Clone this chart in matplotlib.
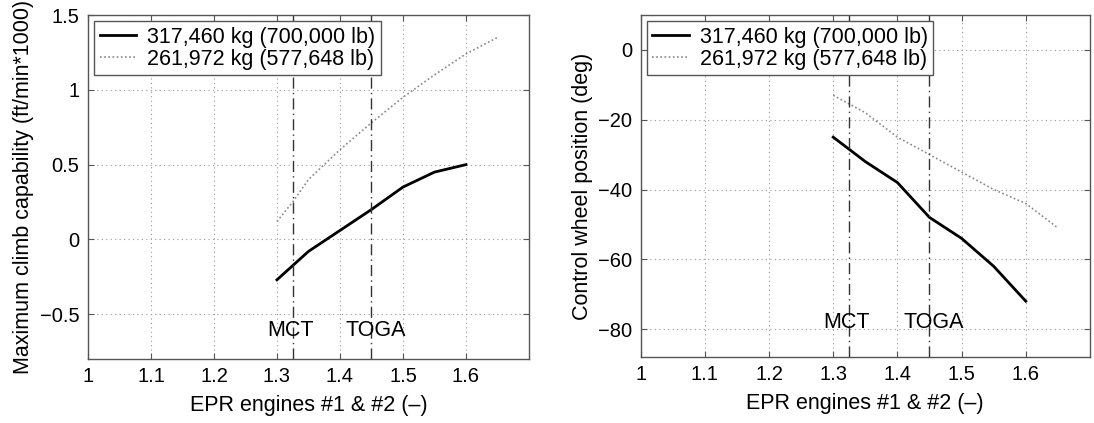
import numpy as np
from matplotlib import pyplot as plt

plt.rcParams["font.family"] = ["Liberation Sans", "DejaVu Sans"]

# EPR settings
epr_heavy = [1.3, 1.35, 1.4, 1.45, 1.5, 1.55, 1.6]
epr_light = [1.3, 1.325, 1.35, 1.4, 1.45, 1.5, 1.55, 1.6, 1.65]
epr_light_r = [1.3, 1.35, 1.4, 1.45, 1.5, 1.55, 1.6, 1.65]

# max climb capability (ft/min*1000)
climb_heavy = [-0.27, -0.08, 0.06, 0.2, 0.35, 0.45, 0.5]
climb_light = [0.12, 0.25, 0.40, 0.60, 0.78, 0.95, 1.10, 1.24, 1.35]

# control wheel position (deg)
wheel_heavy = [-25, -32, -38, -48, -54, -62, -72]
wheel_light = [-13, -18, -25, -30, -35, -40, -44, -51]

labels = ["317,460 kg (700,000 lb)", "261,972 kg (577,648 lb)"]
mct, toga = 1.325, 1.45
xticks = [1, 1.1, 1.2, 1.3, 1.4, 1.5, 1.6]
xticklabels = ["1", "1.1", "1.2", "1.3", "1.4", "1.5", "1.6"]

fs = 15.5
fs_tick = 14.5
fig = plt.figure(figsize=(10.94, 4.23), dpi=100)
ax1 = fig.add_axes([0.0804, 0.151, 0.4031, 0.8135])
ax2 = fig.add_axes([0.5856, 0.156, 0.4107, 0.8085])


def style(ax):
    ax.set_xlim(1, 1.7)
    ax.set_xticks(xticks)
    ax.set_xticklabels(xticklabels)
    ax.grid(True, linestyle=(0, (1, 3)), color="#999999", linewidth=0.8)
    ax.tick_params(direction="in", top=True, right=True, labelsize=fs_tick,
                   color="#555555", length=4, pad=6)
    for s in ax.spines.values():
        s.set_color("#555555")
        s.set_linewidth(1.0)
    ax.set_xlabel("EPR engines #1 & #2 (\u2013)", fontsize=fs, labelpad=6)
    ax.axvline(mct, color="#333333", linestyle=(0, (8, 3, 1, 3)), linewidth=1.0)
    ax.axvline(toga, color="#333333", linestyle=(0, (8, 3, 1, 3)), linewidth=1.0)


ax1.plot(epr_heavy, climb_heavy, color="black", linewidth=2, label=labels[0])
ax1.plot(epr_light, climb_light, color="#888888", linestyle=(0, (1, 1.5)),
         linewidth=1.2, label=labels[1])
style(ax1)
ax1.set_ylim(-0.8, 1.5)
ax1.set_yticks([-0.5, 0, 0.5, 1, 1.5])
ax1.set_yticklabels(["\u22120.5", "0", "0.5", "1", "1.5"])
ax1.set_ylabel("Maximum climb capability (ft/min*1000)", fontsize=fs, labelpad=4)
ax1.text(1.322, -0.61, "MCT", ha="center", va="center", fontsize=fs)
ax1.text(1.457, -0.61, "TOGA", ha="center", va="center", fontsize=fs)

ax2.plot(epr_heavy, wheel_heavy, color="black", linewidth=2, label=labels[0])
ax2.plot(epr_light_r, wheel_light, color="#888888", linestyle=(0, (1, 1.5)),
         linewidth=1.2, label=labels[1])
style(ax2)
ax2.set_ylim(-88, 10)
ax2.set_yticks([-80, -60, -40, -20, 0])
ax2.set_yticklabels(["\u221280", "\u221260", "\u221240", "\u221220", "0"])
ax2.set_ylabel("Control wheel position (deg)", fontsize=fs, labelpad=4)
ax2.text(1.32, -78, "MCT", ha="center", va="center", fontsize=fs)
ax2.text(1.456, -78, "TOGA", ha="center", va="center", fontsize=fs)

for ax in (ax1, ax2):
    leg = ax.legend(loc="upper left", fontsize=fs, fancybox=False,
                    framealpha=1, edgecolor="#555555", borderaxespad=0.3,
                    handlelength=1.7, handletextpad=0.5, labelspacing=0.05,
                    borderpad=0.25)
    leg.get_frame().set_linewidth(1.0)

fig.savefig("out.png", dpi=100)
